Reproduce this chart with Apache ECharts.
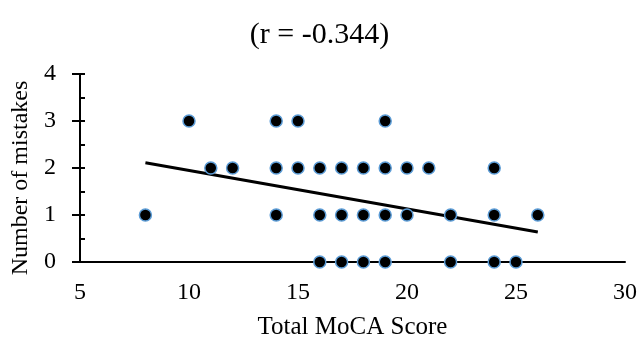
<!DOCTYPE html>
<html><head><meta charset="utf-8">
<script src="https://cdn.jsdelivr.net/npm/echarts@6/dist/echarts.min.js"></script>
<style>html,body{margin:0;padding:0;background:#fff}#c{width:639px;height:338px}</style>
</head><body><div id="c"></div>
<script>
const mocaScores = [8,10,11,12,14,14,14,15,15,16,16,16,17,17,17,18,18,18,19,19,19,19,20,20,21,22,22,24,24,24,25,26];
const mistakes   = [1,3,2,2,3,2,1,3,2,2,1,0,2,1,0,2,1,0,3,2,1,0,2,1,2,1,0,2,1,0,0,1];
const trendX = [8, 26];
const trendY = [2.11, 0.64];
const xTicks = [5,10,15,20,25,30];
const yTicks = [0,1,2,3,4];
const titleText = '(r = -0.344)';
const xName = 'Total MoCA Score';
const yName = 'Number of mistakes';

const font = "'Liberation Serif','Times New Roman',serif";
const chart = echarts.init(document.getElementById('c'), null, {renderer:'canvas'});
chart.setOption({
  animation:false,
  backgroundColor:'#fff',
  title:{text:titleText,left:'center',top:15,textStyle:{fontFamily:font,fontSize:30,fontWeight:'normal',color:'#000'}},
  grid:{left:80,right:14,top:74,bottom:76,containLabel:false,outerBoundsMode:'none'},
  xAxis:{type:'value',min:xTicks[0],max:xTicks[xTicks.length-1],interval:5,
    name:xName,nameLocation:'middle',nameGap:53,
    nameTextStyle:{fontFamily:font,fontSize:25,color:'#000'},
    axisLine:{onZero:false,lineStyle:{color:'#000',width:2}},
    axisTick:{show:false},splitLine:{show:false},
    axisLabel:{fontFamily:font,fontSize:24,color:'#000',margin:19}},
  yAxis:[{type:'value',min:yTicks[0],max:yTicks[yTicks.length-1],interval:1,
    name:yName,nameLocation:'middle',nameGap:46,
    nameTextStyle:{fontFamily:font,fontSize:24,color:'#000',padding:[0,20,0,0]},
    axisLine:{lineStyle:{color:'#000',width:2}},
    axisTick:{show:true,length:8,lineStyle:{color:'#000',width:2}},
    splitLine:{show:false},
    axisLabel:{fontFamily:font,fontSize:24,color:'#000',margin:24}},
   {type:'value',min:0,max:4,interval:0.5,position:'left',
    axisLine:{show:false},
    axisTick:{show:true,inside:true,length:5,lineStyle:{color:'#000',width:2}},
    axisLabel:{show:false},splitLine:{show:false}}],
  series:[
    {type:'line',data:trendX.map((x,i)=>[x,trendY[i]]),symbol:'none',
     lineStyle:{color:'#000',width:3},z:1},
    {type:'scatter',data:mocaScores.map((x,i)=>[x,mistakes[i]]),symbolSize:12,
     itemStyle:{color:'#000',borderColor:'#5B9BD5',borderWidth:1.5,opacity:1},z:2}
  ]
});
</script></body></html>
